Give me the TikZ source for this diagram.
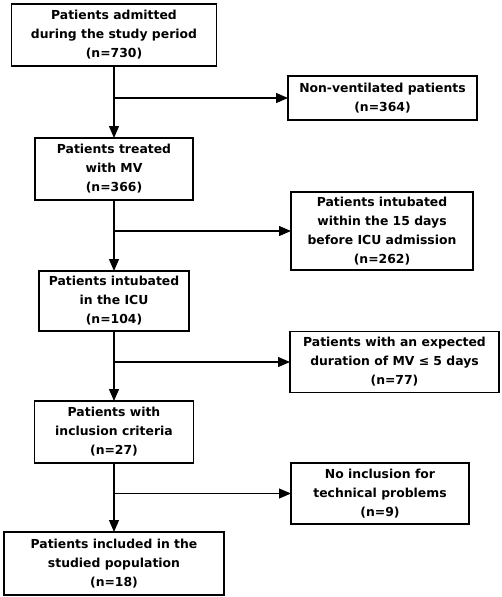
\documentclass[tikz,border=0pt]{standalone}
\usepackage{fontspec}
\setmainfont{DejaVu Sans}
\usetikzlibrary{arrows.meta}

\tikzset{
  box/.style={draw,line width=1.3pt,align=center,inner sep=0,outer sep=0,
    font=\bfseries\fontsize{12.4}{19}\selectfont},
  arr/.style={-{Triangle[length=12pt,width=10pt]},line width=1.1pt}
}

\begin{document}
\begin{tikzpicture}[x=1pt,y=-1pt]
	\useasboundingbox (0,0) rectangle (502,597);
	\node[box,minimum width=205pt,minimum height=62pt] (1) at (114,35) {Patients admitted\\during the study period\\(n=730)};
	\node[box,minimum width=189pt,minimum height=44pt] (2) at (382.5,98) {Non-ventilated patients\\(n=364)};
	\node[box,minimum width=158pt,minimum height=62pt] (3) at (114,169) {Patients treated\\with MV\\(n=366)};
	\node[box,minimum width=182pt,minimum height=78pt] (4) at (382,231) {Patients intubated\\within the 15 days\\before ICU admission\\(n=262)};
	\node[box,minimum width=150pt,minimum height=60pt] (5) at (114,301) {Patients intubated\\in the ICU\\(n=104)};
	\node[box,minimum width=209pt,minimum height=61pt] (6) at (394.5,362) {Patients with an expected\\duration of MV ≤ 5 days\\(n=77)};
	\node[box,minimum width=159pt,minimum height=62pt] (7) at (114,432) {Patients with\\inclusion criteria\\(n=27)};
	\node[box,minimum width=178pt,minimum height=61pt] (8) at (380,493.5) {No inclusion for\\technical problems\\(n=9)};
	\node[box,minimum width=220pt,minimum height=63pt] (9) at (114,563.5) {Patients included in the\\studied population\\(n=18)};
	\draw[arr] (1) -- (3);
	\draw[arr] (3) -- (5);
	\draw[arr] (5) -- (7);
	\draw[arr] (7) -- (9);
	\draw[arr] (1 |- 2) -- (2);
	\draw[arr] (3 |- 4) -- (4);
	\draw[arr] (5 |- 6) -- (6);
	\draw[arr] (7 |- 8) -- (8);
\end{tikzpicture}
\end{document}
